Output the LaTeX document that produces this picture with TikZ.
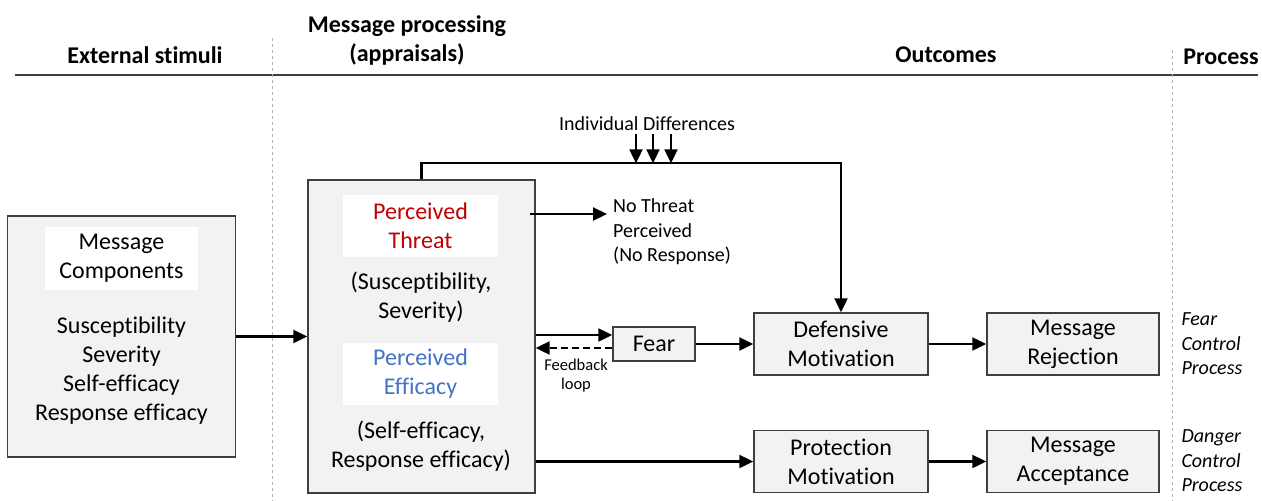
\documentclass[tikz,border=0pt]{standalone}
\usepackage{fontspec}
\setmainfont{Carlito}[Ligatures=NoCommon]
\usetikzlibrary{arrows.meta}

\definecolor{boxgray}{HTML}{F2F2F2}
\definecolor{edgegray}{HTML}{3F3F3F}
\definecolor{threatred}{HTML}{C00000}
\definecolor{effblue}{HTML}{4472C4}

\newcommand{\boxfont}{\fontsize{24}{29}\selectfont}
\newcommand{\notefont}{\fontsize{20}{24.5}\selectfont}
\newcommand{\tinyfont}{\fontsize{16.5}{19}\selectfont}

\tikzset{
  box/.style={draw=edgegray, fill=boxgray, line width=1.4pt, inner sep=0pt,
    align=center, font=\boxfont},
  whitebox/.style={fill=white, inner sep=0pt, align=center, font=\boxfont,
    minimum width=155pt, minimum height=62pt},
  head/.style={font=\boxfont\bfseries, align=center},
  arr/.style={line width=2.2pt, -{Triangle[length=14pt,width=13pt]}},
  sep/.style={draw=gray!60, dashed, line width=0.9pt},
}

\begin{document}
\begin{tikzpicture}[x=1pt,y=-1pt]
  \useasboundingbox (0,0) rectangle (1262,501);

  % column heads
  \node[head] (hstim) at (145,55) {External stimuli};
  \node[head] (hproc) at (407,40) {Message processing\\(appraisals)};
  \node[head] (hout) at (946,55) {Outcomes};
  \node[head] (hpro) at (1221,57) {Process};
  \draw[line width=1.5pt, edgegray] (15,75) -- (1258,75);
  \draw[sep] (272,38) -- (272,501);
  \draw[sep] (1172,50) -- (1172,501);

  % external stimuli
  \node[box, minimum width=228pt, minimum height=241pt] (msg) at (121.5,336.5) {};
  \node[whitebox, minimum width=153pt, minimum height=63pt] (comp) at (121.5,258.5)
    {Message\\Components};
  \node[align=center, font=\boxfont] (items) at (121.5,370.5)
    {Susceptibility\\Severity\\Self-efficacy\\Response efficacy};

  % appraisals
  \node[box, minimum width=227pt, minimum height=313pt] (proc) at (421.5,336.5) {};
  \node[whitebox, text=threatred] (threat) at (420.5,226) {Perceived\\Threat};
  \node[align=center, font=\boxfont] (threatsub) at (421,297.5)
    {(Susceptibility,\\Severity)};
  \node[whitebox, text=effblue] (efficacy) at (420.5,373.5) {Perceived\\Efficacy};
  \node[align=center, font=\boxfont] (effsub) at (421,446.5)
    {(Self-efficacy,\\Response efficacy)};

  % outcomes
  \node[align=left, anchor=west, inner sep=0pt, font=\notefont] (nothreat) at (613,232)
    {No Threat\\Perceived\\(No Response)};
  \node[box, minimum width=82pt, minimum height=34pt] (fear) at (654,344) {Fear};
  \node[align=center, font=\tinyfont] (loop) at (576,376) {Feedback\\loop};
  \node[box, minimum width=174pt, minimum height=62pt] (defmot) at (841,344)
    {Defensive\\Motivation};
  \node[box, minimum width=172pt, minimum height=62pt] (rej) at (1073,344)
    {Message\\Rejection};
  \node[box, minimum width=174pt, minimum height=62pt] (protmot) at (841,461.5)
    {Protection\\Motivation};
  \node[box, minimum width=172pt, minimum height=62pt] (acc) at (1073,461.5)
    {Message\\Acceptance};
  \node[font=\notefont, anchor=north, inner sep=0pt] (idiff) at (647,116)
    {Individual Differences};

  % process labels
  \node[align=left, anchor=west, font=\notefont\itshape] (fcp) at (1178,344)
    {Fear\\Control\\Process};
  \node[align=left, anchor=west, font=\notefont\itshape] (dcp) at (1178,461)
    {Danger\\Control\\Process};

  % connectors
  \draw[arr] (msg.east) -- (proc.west);
  \draw[arr] (proc.north) -- ++(0,-16) coordinate (bend) -| (defmot.north);
  \foreach \dx in {-11,6,24}
    \draw[arr] ([xshift=\dx pt, yshift=-4pt]idiff.south) -- ([xshift=\dx pt]idiff.south |- bend);
  \draw[arr] ([xshift=-6pt, yshift=18pt]nothreat.west -| proc.east)
    -- ([xshift=-6pt, yshift=18pt]nothreat.west);
  \draw[arr] ([yshift=9pt]fear.west -| proc.east) -- ([yshift=9pt]fear.west);
  \draw[arr, dash pattern=on 7pt off 4pt] ([yshift=-4pt]fear.west)
    -- ([yshift=-4pt]fear.west -| proc.east);
  \draw[arr] (fear.east) -- (defmot.west);
  \draw[arr] (defmot.east) -- (rej.west);
  \draw[arr] (proc.east |- protmot.west) -- (protmot.west);
  \draw[arr] (protmot.east) -- (acc.west);
\end{tikzpicture}
\end{document}
